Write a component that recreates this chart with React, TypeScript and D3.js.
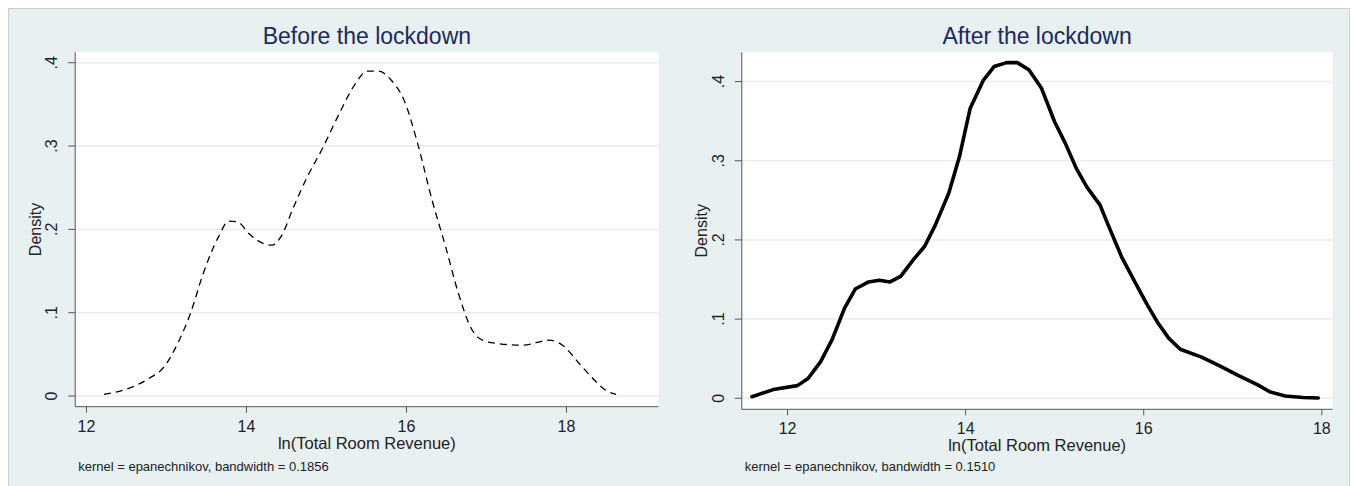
import React from "react";
import * as d3 from "d3";

// kernel density estimates
const beforeX = [12.22, 12.49, 12.78, 12.97, 13.16, 13.3, 13.46, 13.65, 13.78, 13.89, 14.03, 14.19, 14.32, 14.43, 14.59, 14.76, 14.95, 15.14, 15.35, 15.51, 15.65, 15.81, 15.97, 16.14, 16.32, 16.49, 16.65, 16.81, 16.95, 17.14, 17.46, 17.78, 17.95, 18.16, 18.35, 18.49, 18.62];
const beforeY = [0.002, 0.008, 0.021, 0.035, 0.067, 0.099, 0.147, 0.191, 0.21, 0.209, 0.195, 0.184, 0.181, 0.191, 0.227, 0.263, 0.297, 0.335, 0.373, 0.39, 0.39, 0.379, 0.355, 0.303, 0.235, 0.179, 0.123, 0.081, 0.067, 0.063, 0.061, 0.067, 0.061, 0.039, 0.019, 0.007, 0.002];

const afterX = [11.6, 11.84, 12.11, 12.23, 12.37, 12.5, 12.64, 12.76, 12.91, 13.03, 13.15, 13.27, 13.42, 13.54, 13.66, 13.81, 13.93, 14.05, 14.2, 14.32, 14.46, 14.58, 14.71, 14.85, 15.0, 15.12, 15.24, 15.36, 15.51, 15.6, 15.75, 15.9, 16.04, 16.16, 16.28, 16.41, 16.65, 16.87, 17.06, 17.28, 17.42, 17.59, 17.79, 17.96];
const afterY = [0.002, 0.011, 0.016, 0.025, 0.046, 0.074, 0.114, 0.138, 0.147, 0.149, 0.147, 0.154, 0.176, 0.192, 0.219, 0.259, 0.305, 0.366, 0.402, 0.419, 0.424, 0.424, 0.415, 0.392, 0.349, 0.322, 0.291, 0.267, 0.244, 0.219, 0.179, 0.147, 0.118, 0.095, 0.076, 0.062, 0.052, 0.04, 0.029, 0.017, 0.008, 0.003, 0.001, 0.0004];

const xTicks = [12, 14, 16, 18];
const yTicks = [0, 0.1, 0.2, 0.3, 0.4];
const yTickLabels = ["0", ".1", ".2", ".3", ".4"];

const titles = ["Before the lockdown", "After the lockdown"];
const notes = [
  "kernel = epanechnikov, bandwidth = 0.1856",
  "kernel = epanechnikov, bandwidth = 0.1510",
];

const FONT = "'Liberation Sans', Arial, Helvetica, sans-serif";
const BG = "#e8f0f2";

function Panel({ xs, ys, title, note, box, xDomain, yDomain, dashed }) {
  const x = d3.scaleLinear().domain(xDomain).range([box.left, box.right]);
  const y = d3.scaleLinear().domain(yDomain).range([box.bottom, box.top]);
  const pts = xs.map((v, i) => [v, ys[i]]);
  const line = d3
    .line()
    .x((d) => x(d[0]))
    .y((d) => y(d[1]))
    .curve(dashed ? d3.curveMonotoneX : d3.curveLinear);
  const cx = (box.left + box.right) / 2;
  const cy = (box.top + box.bottom) / 2;

  return (
    <g fontFamily={FONT}>
      <text x={cx} y={44} textAnchor="middle" fontSize={23} fill="#1c2a5c">
        {title}
      </text>
      <rect x={box.left} y={box.top} width={box.right - box.left} height={box.bottom - box.top} fill="#fff" />
      {yTicks.map((t) => (
        <line key={t} x1={box.left} x2={box.right} y1={y(t)} y2={y(t)} stroke="#e6eef1" strokeWidth={1.5} />
      ))}
      <path
        d={line(pts)}
        fill="none"
        stroke="#000"
        strokeWidth={dashed ? 1.3 : 3.6}
        strokeDasharray={dashed ? "7,5" : null}
        strokeLinejoin="round"
        strokeLinecap={dashed ? "butt" : "round"}
      />
      <line x1={box.left} x2={box.left} y1={box.top} y2={box.bottom} stroke="#555" />
      <line x1={box.left} x2={box.right} y1={box.bottom} y2={box.bottom} stroke="#555" />
      {yTicks.map((t, i) => (
        <g key={t}>
          <line x1={box.left - 7} x2={box.left} y1={y(t)} y2={y(t)} stroke="#555" />
          <text
            transform={`translate(${box.left - 18},${y(t)}) rotate(-90)`}
            textAnchor="middle"
            fontSize={16}
            fill="#222"
          >
            {yTickLabels[i]}
          </text>
        </g>
      ))}
      {xTicks.map((t) => (
        <g key={t}>
          <line x1={x(t)} x2={x(t)} y1={box.bottom} y2={box.bottom + 6} stroke="#555" />
          <text x={x(t)} y={box.bottom + 25} textAnchor="middle" fontSize={16} fill="#222">
            {t}
          </text>
        </g>
      ))}
      <text x={cx} y={box.bottom + 42} textAnchor="middle" fontSize={16.5} fill="#222">
        ln(Total Room Revenue)
      </text>
      <text
        transform={`translate(${box.left - 34.5},${cy}) rotate(-90)`}
        textAnchor="middle"
        fontSize={16}
        fill="#222"
      >
        Density
      </text>
      <text x={box.left + 3} y={471} fontSize={13} fill="#222">
        {note}
      </text>
    </g>
  );
}

export default function App() {
  return (
    <svg
      width={1354}
      height={486}
      style={{ position: "absolute", left: 0, top: 0, background: "#fff" }}
    >
      <rect x={8.5} y={8.5} width={1341} height={490} fill={BG} stroke="#cfcfcf" />
      <Panel
        xs={beforeX}
        ys={beforeY}
        title={titles[0]}
        note={notes[0]}
        box={{ left: 75.2, right: 658.5, top: 52.3, bottom: 406.7 }}
        xDomain={[11.86, 19.15]}
        yDomain={[-0.0128, 0.4125]}
        dashed
      />
      <Panel
        xs={afterX}
        ys={afterY}
        title={titles[1]}
        note={notes[1]}
        box={{ left: 741.8, right: 1332.5, top: 52.3, bottom: 409.3 }}
        xDomain={[11.486, 18.12]}
        yDomain={[-0.0139, 0.437]}
        dashed={false}
      />
    </svg>
  );
}
